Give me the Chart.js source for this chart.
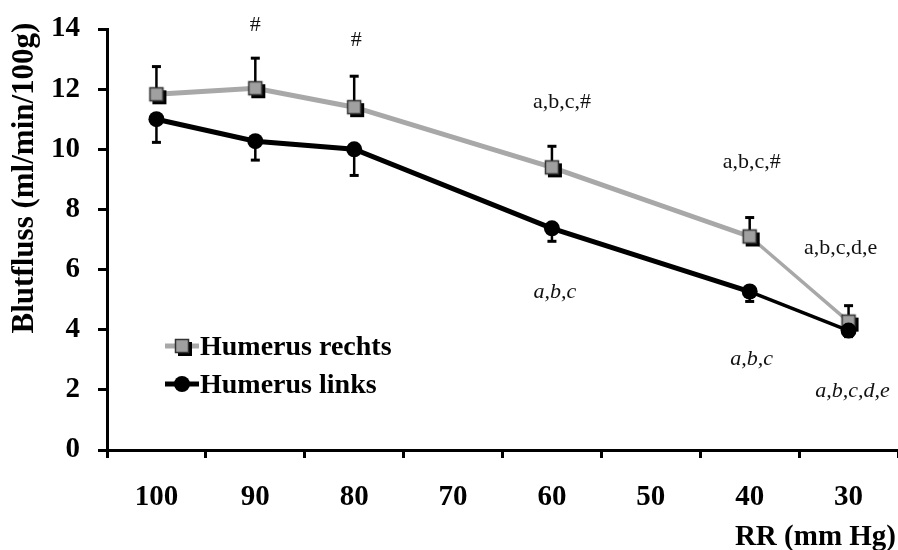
<!DOCTYPE html>
<html>
<head>
<meta charset="utf-8">
<script src="https://cdn.jsdelivr.net/npm/chart.js@4/dist/chart.umd.min.js"></script>
<style>
  html, body { margin: 0; padding: 0; background: #fff; }
  #wrap { width: 898px; height: 550px; }
</style>
</head>
<body>
<div id="wrap"><canvas id="c" width="898" height="550"></canvas></div>
<script>
// Arterial pressure steps (mm Hg)
const categories = ['100', '90', '80', '70', '60', '50', '40', '30'];

// Blood flow, right humerus (mean, upper SD)
const rechts    = [11.83, 12.03, 11.4, null, 9.4, null, 7.1, 4.27];
const rechtsErr = [0.92, 1.0, 1.03, null, 0.7, null, 0.63, 0.53];

// Blood flow, left humerus (mean, lower SD)
const links    = [11.0, 10.27, 10.0, null, 7.37, null, 5.27, 3.97];
const linksErr = [0.77, 0.63, 0.87, null, 0.43, null, 0.33, 0.2];

// Significance marks per pressure step
const sigRechts = [null, '#', '#', null, 'a,b,c,#', null, 'a,b,c,#', 'a,b,c,d,e'];
const sigLinks  = [null, null, null, null, 'a,b,c', null, 'a,b,c', 'a,b,c,d,e'];

// Y-axis ticks
const yMin = 0, yMax = 14, yStep = 2;

const SERIF = '"Liberation Serif", "Times New Roman", serif';
const GREY = '#a8a8a8';

// Grey square marker with a dark drop shadow
function squareMarker() {
  const c = document.createElement('canvas');
  c.width = 28; c.height = 28;
  const g = c.getContext('2d');
  g.fillStyle = '#000';
  g.fillRect(10, 10, 14, 14);
  g.fillStyle = '#a0a0a0';
  g.fillRect(7, 7, 14, 14);
  g.strokeStyle = '#333';
  g.lineWidth = 1.5;
  g.strokeRect(7.5, 7.5, 13, 13);
  return c;
}
const sqMarker = squareMarker();

// Label offsets (px) relative to each point
const sigRechtsOffset = [null, [0, -63], [2, -67], null, [10, -65], null, [2, -74], [-8, -73]];
const sigLinksOffset  = [null, null, null, null, [3, 64], null, [2, 68], [4, 61]];

const errorBars = {
  id: 'errorBars',
  beforeDatasetsDraw(chart) {
    const { ctx, scales: { x, y } } = chart;
    ctx.save();
    ctx.strokeStyle = '#000';
    ctx.lineCap = 'butt';
    const draw = (vals, errs, dir) => {
      vals.forEach((v, i) => {
        if (v == null || errs[i] == null) return;
        const px = x.getPixelForValue(i);
        const p0 = y.getPixelForValue(v);
        const p1 = y.getPixelForValue(v + dir * errs[i]);
        ctx.lineWidth = 2.5;
        ctx.beginPath(); ctx.moveTo(px, p0); ctx.lineTo(px, p1); ctx.stroke();
        ctx.lineWidth = 3;
        ctx.beginPath(); ctx.moveTo(px - 4.5, p1); ctx.lineTo(px + 4.5, p1); ctx.stroke();
      });
    };
    draw(rechts, rechtsErr, 1);
    draw(links, linksErr, -1);
    ctx.restore();
  }
};

const sigLabels = {
  id: 'sigLabels',
  afterDatasetsDraw(chart) {
    const { ctx, scales: { x, y } } = chart;
    ctx.save();
    ctx.fillStyle = '#111';
    ctx.textAlign = 'center';
    ctx.textBaseline = 'middle';
    ctx.font = '22px ' + SERIF;
    sigRechts.forEach((t, i) => {
      if (!t) return;
      const o = sigRechtsOffset[i];
      ctx.fillText(t, x.getPixelForValue(i) + o[0], y.getPixelForValue(rechts[i]) + o[1]);
    });
    ctx.font = 'italic 22px ' + SERIF;
    sigLinks.forEach((t, i) => {
      if (!t) return;
      const o = sigLinksOffset[i];
      ctx.fillText(t, x.getPixelForValue(i) + o[0], y.getPixelForValue(links[i]) + o[1]);
    });
    ctx.restore();
  }
};

const frameText = {
  id: 'frameText',
  afterDraw(chart) {
    const { ctx } = chart;
    ctx.save();
    ctx.fillStyle = '#000';
    // Y-axis title
    ctx.font = 'bold 31px ' + SERIF;
    ctx.translate(25, 178);
    ctx.rotate(-Math.PI / 2);
    ctx.textAlign = 'center';
    ctx.textBaseline = 'middle';
    ctx.fillText('Blutfluss (ml/min/100g)', 0, 0);
    ctx.setTransform(1, 0, 0, 1, 0, 0);
    // X-axis title
    ctx.font = 'bold 29px ' + SERIF;
    ctx.textAlign = 'right';
    ctx.fillText('RR (mm Hg)', 896, 538);

    // Legend
    const ds = chart.data.datasets;
    const rows = [[ds[0], 346], [ds[1], 384]];
    rows.forEach(([d, ly], k) => {
      ctx.strokeStyle = d.borderColor;
      ctx.lineWidth = 5;
      ctx.beginPath(); ctx.moveTo(165, ly); ctx.lineTo(199, ly); ctx.stroke();
      if (k === 0) {
        ctx.drawImage(sqMarker, 182 - 14, ly - 14);
      } else {
        ctx.fillStyle = '#000';
        ctx.beginPath(); ctx.arc(182, ly, 8, 0, Math.PI * 2); ctx.fill();
      }
      ctx.fillStyle = '#000';
      ctx.font = 'bold 28px ' + SERIF;
      ctx.textAlign = 'left';
      ctx.textBaseline = 'middle';
      ctx.fillText(d.label, 200, ly + 2);
    });
    ctx.restore();
  }
};

const tickFont = { family: SERIF, size: 29, weight: 'bold' };

new Chart(document.getElementById('c'), {
  type: 'line',
  data: {
    labels: categories,
    datasets: [
      {
        label: 'Humerus rechts',
        data: rechts,
        borderColor: GREY,
        borderWidth: 5,
        pointStyle: sqMarker,
        spanGaps: true,
        tension: 0,
        order: 2,
        segment: { borderWidth: c => (c.p1DataIndex === 7 ? 3.5 : 5) }
      },
      {
        label: 'Humerus links',
        data: links,
        borderColor: '#000',
        backgroundColor: '#000',
        borderWidth: 5,
        pointStyle: 'circle',
        pointRadius: 8,
        pointBorderWidth: 0,
        pointBackgroundColor: '#000',
        spanGaps: true,
        tension: 0,
        order: 1,
        segment: { borderWidth: c => (c.p1DataIndex === 7 ? 3.5 : 5) }
      }
    ]
  },
  options: {
    responsive: false,
    animation: false,
    devicePixelRatio: 1,
    layout: { autoPadding: false, padding: { top: 29, right: 0, left: 0, bottom: 0 } },
    plugins: { legend: { display: false }, tooltip: { enabled: false } },
    scales: {
      x: {
        type: 'category',
        offset: true,
        grid: { offset: true, drawOnChartArea: false, drawTicks: true, tickLength: 8, tickWidth: 3, tickColor: '#000' },
        border: { display: true, color: '#000', width: 3 },
        ticks: { font: tickFont, color: '#000', padding: 22, maxRotation: 0, autoSkip: false },
        afterFit(s) { s.height = 100; s.paddingLeft = 0; s.paddingRight = 0; }
      },
      y: {
        min: yMin, max: yMax,
        grid: { drawOnChartArea: false, drawTicks: true, tickLength: 9, tickWidth: 3, tickColor: '#000' },
        border: { display: true, color: '#000', width: 3 },
        ticks: { stepSize: yStep, font: tickFont, color: '#000', padding: 18 },
        afterFit(s) { s.width = 107; s.paddingTop = 0; s.paddingBottom = 0; }
      }
    }
  },
  plugins: [errorBars, sigLabels, frameText]
});
</script>
</body>
</html>
